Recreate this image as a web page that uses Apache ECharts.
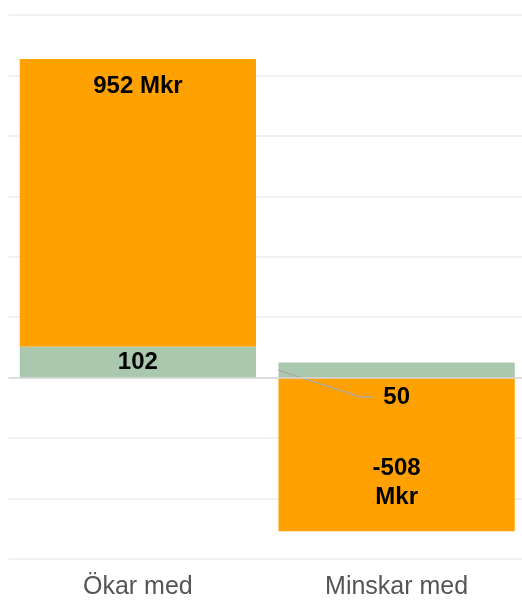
<!DOCTYPE html>
<html>
<head>
<meta charset="utf-8">
<script src="https://cdn.jsdelivr.net/npm/echarts@6/dist/echarts.min.js"></script>
<style>
html,body{margin:0;padding:0;background:#fff;overflow:hidden;width:522px;height:600px;}
#chart{width:526px;height:600px;}
</style>
</head>
<body>
<div id="chart"></div>
<script>
const categories = ['Ökar med', 'Minskar med'];
const greenValues = [102, 50];
const orangeValues = [952, -508];
const orangeLabels = ['952 Mkr', '-508\nMkr'];
const yTicks = { min: -600, max: 1200, interval: 200 };

const FONT = '"Liberation Sans", Arial, sans-serif';
const BAR_FRACTION = 0.913;
const chart = echarts.init(document.getElementById('chart'), null, { renderer: 'canvas' });

const orangeData = orangeValues.map((v) => ({
  value: v,
  label: v >= 0
    ? { position: 'insideTop', distance: 13 }
    : { position: 'insideBottom', distance: 19 }
}));

// connector for the small label of the second green bar
const connectorData = [[1, greenValues[1]]];

chart.setOption({
  animation: false,
  backgroundColor: '#fff',
  grid: { left: 8.5, right: 0, top: 15, bottom: 40, containLabel: false },
  xAxis: {
    type: 'category',
    data: categories,
    axisLine: { show: false, onZero: false },
    axisTick: { show: false },
    axisLabel: { color: '#555', fontSize: 25, fontFamily: FONT, margin: 16 }
  },
  yAxis: {
    type: 'value',
    min: yTicks.min,
    max: yTicks.max,
    interval: yTicks.interval,
    axisLabel: { show: false },
    axisLine: { show: false },
    axisTick: { show: false },
    splitLine: { lineStyle: { color: '#ececec', width: 1.5 } }
  },
  series: [
    {
      name: 'Grön',
      type: 'bar',
      stack: 'total',
      z: 3,
      barWidth: (BAR_FRACTION * 100) + '%',
      data: greenValues,
      itemStyle: { color: '#aac8ae' },
      label: {
        show: true,
        position: 'inside',
        color: '#000',
        fontWeight: 'bold',
        fontSize: 24,
        fontFamily: FONT,
        formatter: p => String(p.value)
      },
      labelLayout: function (params) {
        return params.dataIndex === 1 ? { dy: 27 } : {};
      },
      markLine: {
        silent: true,
        symbol: 'none',
        label: { show: false },
        lineStyle: { color: '#d6d6d6', width: 1.5, type: 'solid' },
        data: [{ yAxis: 0 }]
      }
    },
    {
      name: 'Orange',
      type: 'bar',
      stack: 'total',
      barWidth: (BAR_FRACTION * 100) + '%',
      data: orangeData,
      itemStyle: { color: '#ffa100' },
      label: {
        show: true,
        color: '#000',
        fontWeight: 'bold',
        fontSize: 24,
        lineHeight: 29,
        fontFamily: FONT,
        formatter: p => orangeLabels[p.dataIndex]
      }
    },
    {
      name: 'connector',
      type: 'custom',
      z: 4,
      silent: true,
      data: connectorData,
      renderItem: function (params, api) {
        const c = api.coord([api.value(0), api.value(1) / 2]);
        const half = api.size([1, 0])[0] * BAR_FRACTION / 2;
        return {
          type: 'polyline',
          shape: { points: [[c[0] - half, c[1]], [c[0] - 36, c[1] + 27], [c[0] - 24, c[1] + 27]] },
          style: { stroke: '#a9a9a9', lineWidth: 1.5, fill: null }
        };
      }
    }
  ]
});
</script>
</body>
</html>
